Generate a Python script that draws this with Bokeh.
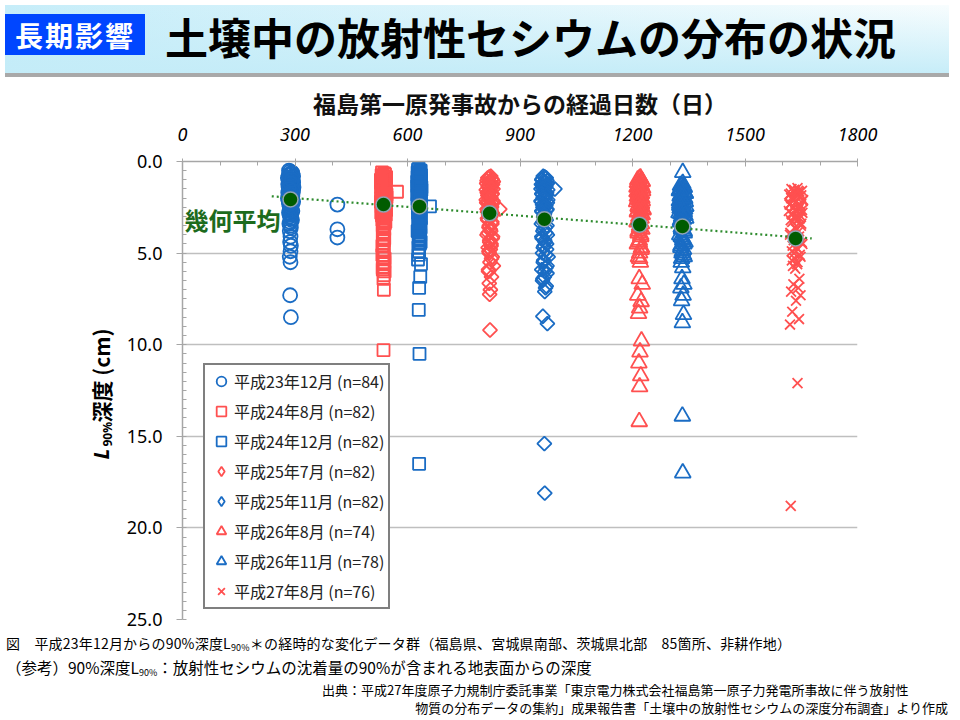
import numpy as np
from bokeh.plotting import figure
from bokeh.layouts import column, row
from bokeh.models import (Range1d, SingleIntervalTicker, FixedTicker,
                          NumeralTickFormatter, Label, Div, Legend, LegendItem)
from bokeh.core.properties import value
from bokeh.embed import file_html
from bokeh.resources import INLINE

JP = "Noto Sans CJK JP"
BLUE = "#1a6cc4"
RED = "#ff5050"

# ---------------- data ----------------
series_labels = ["平成23年12月 (n=84)", "平成24年8月 (n=82)", "平成24年12月 (n=82)",
                 "平成25年7月 (n=82)", "平成25年11月 (n=82)", "平成26年8月 (n=74)",
                 "平成26年11月 (n=78)", "平成27年8月 (n=76)"]

A_depth = [0.5, 0.6, 0.7, 0.8, 0.9, 1.0, 1.1, 1.1, 1.2, 1.3,
           1.3, 1.4, 1.5, 1.5, 1.6, 1.7, 1.7, 1.8, 1.9, 1.9,
           2.0, 2.1, 2.1, 2.2, 2.3, 2.4, 2.5, 2.6, 2.7, 2.8,
           2.9, 3.0, 3.2, 3.4, 3.6, 3.8, 4.1, 4.4, 4.6, 4.9,
           5.2, 5.5, 7.3, 8.5, 2.35, 3.7, 4.15,
           0.55, 0.65, 0.75, 0.85, 0.95, 1.05, 1.15, 1.25, 1.35, 1.45,
           1.55, 1.65, 1.75, 1.85, 1.95, 2.05, 2.15, 2.25, 2.35, 2.45,
           0.7, 0.9, 1.2, 1.4, 1.6, 1.8, 2.0, 2.2, 2.6, 2.9,
           3.1, 3.3, 3.5, 1.0, 1.5, 2.3, 2.7]
A_days = [284, 292, 288, 295, 281, 290, 286, 294, 283, 291,
          288, 296, 284, 292, 287, 282, 294, 289, 285, 293,
          281, 290, 287, 295, 284, 291, 288, 286, 293, 284,
          290, 287, 292, 285, 289, 286, 288, 287, 289, 288,
          286, 288, 287, 289, 413, 413, 413,
          287, 293, 283, 291, 289, 285, 295, 282, 290, 286,
          294, 288, 284, 292, 290, 287, 283, 293, 289, 286,
          291, 285, 289, 283, 294, 287, 292, 288, 290, 286,
          289, 287, 288, 292, 284, 289, 287]

B_depth = [0.6, 0.7, 0.8, 0.9, 1.0, 1.1, 1.2, 1.3, 1.3, 1.4,
           1.5, 1.6, 1.6, 1.7, 1.8, 1.9, 2.0, 2.0, 2.1, 2.2,
           2.3, 2.4, 2.5, 2.6, 2.7, 2.8, 2.9, 3.0, 3.2, 3.4,
           3.6, 3.9, 4.2, 4.5, 4.8, 5.1, 5.3, 5.6, 5.9, 6.2,
           7.0, 10.3, 1.65,
           0.65, 0.75, 0.85, 0.95, 1.05, 1.15, 1.25, 1.35, 1.45, 1.55,
           1.65, 1.75, 1.85, 1.95, 2.05, 2.15, 2.25, 2.35, 2.45, 2.55,
           2.65, 2.75, 2.85, 2.95, 3.1, 3.3, 3.5, 3.7, 4.0, 4.3,
           4.6, 4.9, 5.5, 5.8, 6.4, 6.0, 1.0, 1.8, 2.2]
B_days = [532, 540, 535, 543, 529, 538, 533, 541, 536, 530,
          542, 534, 539, 531, 544, 536, 530, 540, 535, 543,
          532, 538, 541, 534, 537, 530, 542, 536, 533, 539,
          536, 534, 538, 535, 537, 533, 539, 536, 534, 537,
          537, 536, 572,
          538, 531, 543, 535, 540, 529, 537, 542, 533, 539,
          530, 541, 536, 544, 532, 538, 534, 540, 531, 537,
          543, 535, 539, 532, 536, 541, 534, 538, 535, 537,
          533, 536, 538, 534, 536, 539, 531, 542, 529]

C_depth = [0.4, 0.5, 0.6, 0.7, 0.8, 0.9, 1.0, 1.1, 1.2, 1.3,
           1.4, 1.5, 1.6, 1.7, 1.8, 1.9, 2.0, 2.1, 2.2, 2.3,
           2.4, 2.5, 2.6, 2.8, 3.0, 3.2, 3.4, 3.6, 3.9, 4.2,
           4.5, 4.9, 5.35, 5.6, 6.3, 6.9, 8.1, 10.5, 16.5, 2.45,
           0.45, 0.55, 0.65, 0.75, 0.85, 0.95, 1.05, 1.15, 1.25, 1.35,
           1.45, 1.55, 1.65, 1.75, 1.85, 1.95, 2.05, 2.15, 2.25, 2.35,
           2.45, 2.55, 2.7, 2.9, 3.1, 3.3, 3.5, 3.7, 3.8, 4.0,
           4.1, 4.3, 4.4, 4.7, 0.6, 1.0, 1.4, 1.8, 2.2, 2.6,
           3.0, 5.1]
C_days = [630, 635, 627, 633, 629, 636, 631, 626, 634, 630,
          637, 628, 633, 631, 626, 635, 629, 634, 632, 627,
          636, 630, 633, 628, 634, 631, 629, 635, 632, 630,
          633, 631, 628, 636, 634, 631, 630, 632, 631, 660,
          628, 634, 631, 636, 627, 632, 635, 629, 633, 626,
          631, 637, 628, 634, 630, 636, 627, 633, 629, 635,
          631, 628, 634, 630, 636, 629, 633, 631, 627, 634,
          630, 632, 635, 629, 633, 628, 636, 630, 634, 629,
          632, 630]

D_depth = [0.8, 0.9, 1.0, 1.1, 1.2, 1.3, 1.4, 1.5, 1.6, 1.7,
           1.8, 1.9, 2.0, 2.1, 2.2, 2.3, 2.4, 2.5, 2.6, 2.7,
           2.8, 2.9, 3.0, 3.1, 3.3, 3.5, 3.7, 3.9, 4.1, 4.3,
           4.6, 4.9, 5.2, 5.5, 5.7, 6.0, 6.3, 6.65, 7.0, 7.25,
           9.2, 2.6,
           0.85, 0.95, 1.05, 1.15, 1.25, 1.35, 1.45, 1.55, 1.65, 1.75,
           1.85, 1.95, 2.05, 2.15, 2.25, 2.35, 2.45, 2.55, 2.65, 2.75,
           2.85, 2.95, 3.05, 3.2, 3.4, 3.6, 3.8, 4.0, 4.2, 4.4,
           4.5, 4.7, 4.8, 5.0, 5.3, 5.9, 1.1, 1.7, 2.3, 2.9]
D_days = [822, 814, 826, 818, 811, 824, 816, 828, 820, 813,
          825, 817, 822, 810, 827, 815, 821, 824, 812, 819,
          826, 816, 822, 813, 825, 818, 821, 815, 827, 819,
          823, 817, 826, 820, 829, 816, 824, 818, 821, 819,
          820, 846,
          818, 825, 812, 821, 827, 815, 823, 810, 819, 826,
          814, 822, 817, 828, 811, 820, 824, 816, 823, 813,
          827, 818, 821, 814, 825, 817, 822, 812, 826, 819,
          823, 815, 821, 818, 824, 816, 829, 813, 826, 822]

E_depth = [0.8, 0.9, 1.0, 1.1, 1.2, 1.3, 1.4, 1.5, 1.6, 1.7,
           1.8, 1.9, 2.0, 2.1, 2.2, 2.3, 2.4, 2.5, 2.6, 2.7,
           2.8, 3.0, 3.2, 3.4, 3.6, 3.8, 4.0, 4.2, 4.4, 4.6,
           4.8, 5.0, 5.2, 5.5, 5.8, 5.9, 6.1, 6.3, 6.5, 6.8,
           7.1, 8.45, 8.85, 15.4, 18.1, 1.5,
           0.85, 0.95, 1.05, 1.15, 1.25, 1.35, 1.45, 1.55, 1.65, 1.75,
           1.85, 1.95, 2.05, 2.15, 2.25, 2.35, 2.45, 2.55, 2.65, 2.75,
           2.9, 3.1, 3.3, 3.5, 3.7, 3.9, 4.1, 4.3, 4.5, 4.7,
           5.1, 5.4, 5.7, 6.0, 6.4, 6.9]
E_days = [962, 970, 958, 966, 973, 960, 968, 956, 964, 971,
          959, 967, 962, 974, 957, 965, 969, 961, 972, 958,
          966, 963, 970, 957, 968, 961, 973, 959, 967, 964,
          971, 960, 975, 962, 969, 958, 972, 965, 960, 970,
          966, 961, 973, 965, 966, 993,
          966, 959, 972, 963, 957, 969, 961, 974, 965, 958,
          970, 962, 967, 956, 973, 960, 968, 964, 971, 959,
          965, 968, 961, 972, 963, 969, 958, 966, 971, 962,
          969, 963, 972, 966, 961, 968]

F_depth = [0.9, 1.0, 1.1, 1.2, 1.3, 1.4, 1.5, 1.6, 1.7, 1.8,
           1.9, 2.0, 2.1, 2.2, 2.3, 2.4, 2.5, 2.6, 2.7, 2.8,
           2.9, 3.0, 3.1, 3.3, 3.5, 3.7, 3.9, 4.1, 4.3, 4.5,
           4.7, 5.0, 5.2, 5.5, 6.4, 6.7, 7.3, 7.65, 8.0, 8.3,
           9.8, 10.4, 11.0, 11.7, 12.3, 14.2,
           0.95, 1.05, 1.15, 1.25, 1.35, 1.45, 1.55, 1.65, 1.75, 1.85,
           1.95, 2.05, 2.15, 2.25, 2.35, 2.45, 2.55, 2.65, 2.75, 2.85,
           3.2, 3.4, 3.6, 3.8, 4.0, 4.4, 4.8, 5.3]
F_days = [1221, 1214, 1226, 1217, 1223, 1212, 1219, 1227, 1215, 1222,
          1213, 1225, 1218, 1211, 1224, 1216, 1221, 1228, 1214, 1220,
          1226, 1217, 1223, 1212, 1219, 1225, 1215, 1222, 1218, 1213,
          1224, 1219, 1216, 1221, 1218, 1226, 1214, 1223, 1219, 1216,
          1224, 1220, 1217, 1222, 1219, 1218,
          1218, 1225, 1213, 1222, 1216, 1227, 1220, 1212, 1224, 1217,
          1221, 1214, 1226, 1219, 1223, 1215, 1220, 1228, 1213, 1222,
          1217, 1224, 1219, 1215, 1222, 1218, 1223, 1219]

G_depth = [0.6, 1.3, 1.4, 1.5, 1.6, 1.7, 1.8, 1.9, 2.0, 2.1,
           2.2, 2.3, 2.4, 2.5, 2.6, 2.7, 2.8, 2.9, 3.0, 3.1,
           3.2, 3.4, 3.6, 3.8, 4.0, 4.2, 4.4, 4.6, 4.8, 5.0,
           5.2, 5.5, 5.8, 6.4, 6.7, 6.9, 7.3, 7.6, 8.35, 8.8,
           13.9, 17.0,
           1.35, 1.45, 1.55, 1.65, 1.75, 1.85, 1.95, 2.05, 2.15, 2.25,
           2.35, 2.45, 2.55, 2.65, 2.75, 2.85, 2.95, 3.05, 3.15, 3.3,
           3.5, 3.7, 3.9, 4.1, 4.3, 4.5, 4.7, 4.9, 5.1, 5.3,
           1.2, 1.6, 2.0, 2.4, 2.8, 3.6]
G_days = [1334, 1328, 1338, 1331, 1325, 1340, 1333, 1327, 1336, 1330,
          1341, 1326, 1335, 1329, 1339, 1332, 1324, 1337, 1331, 1342,
          1328, 1335, 1330, 1338, 1326, 1334, 1340, 1329, 1336, 1332,
          1338, 1330, 1334, 1332, 1337, 1329, 1335, 1331, 1336, 1333,
          1333, 1334,
          1330, 1337, 1326, 1335, 1341, 1328, 1333, 1339, 1325, 1336,
          1331, 1342, 1327, 1334, 1338, 1329, 1340, 1332, 1336, 1328,
          1335, 1331, 1338, 1330, 1334, 1337, 1329, 1333, 1336, 1331,
          1334, 1328, 1339, 1326, 1337, 1332]

H_depth = [1.45, 1.5, 1.6, 1.7, 1.8, 1.9, 2.0, 2.1, 2.2, 2.3,
           2.4, 2.5, 2.6, 2.7, 2.8, 2.9, 3.0, 3.1, 3.2, 3.4,
           3.6, 3.8, 4.0, 4.2, 4.4, 4.6, 4.8, 5.0, 5.2, 5.4,
           5.6, 5.85, 6.4, 6.7, 6.9, 7.1, 7.3, 7.6, 8.2, 8.6,
           8.9, 12.1, 18.8,
           1.55, 1.65, 1.75, 1.85, 1.95, 2.05, 2.15, 2.25, 2.35, 2.45,
           2.55, 2.65, 2.75, 2.85, 2.95, 3.05, 3.15, 3.3, 3.5, 3.7,
           3.9, 4.1, 4.3, 4.5, 4.7, 4.9, 5.1, 5.3, 5.5, 5.7,
           1.6, 2.0, 2.4]
H_days = [1640, 1624, 1652, 1632, 1618, 1647, 1628, 1655, 1636, 1621,
          1649, 1630, 1643, 1617, 1653, 1626, 1638, 1646, 1622, 1650,
          1633, 1644, 1620, 1637, 1651, 1627, 1641, 1631, 1648, 1625,
          1639, 1634, 1645, 1629, 1642, 1623, 1648, 1636, 1626, 1644,
          1620, 1640, 1622,
          1631, 1645, 1622, 1650, 1637, 1627, 1654, 1634, 1619, 1643,
          1629, 1652, 1639, 1624, 1647, 1632, 1641, 1626, 1649, 1636,
          1621, 1644, 1630, 1653, 1638, 1625, 1646, 1633, 1640, 1628,
          1642, 1623, 1648]

mean_days = [288, 536, 632, 819, 965, 1219, 1333, 1635]
mean_depth = [2.07, 2.35, 2.45, 2.83, 3.15, 3.45, 3.55, 4.2]
trend_days = [238, 1678]
trend_depth = [1.9, 4.2]

x_ticks_interval = 300
y_ticks_interval = 5

title_tag = "長期影響"
title_text = "土壌中の放射性セシウムの分布の状況"
x_title = "福島第一原発事故からの経過日数（日）"
mean_label = "幾何平均"
src1 = "出典：平成27年度原子力規制庁委託事業「東京電力株式会社福島第一原子力発電所事故に伴う放射性"
src2 = "物質の分布データの集約」成果報告書「土壌中の放射性セシウムの深度分布調査」より作成"

W = 944
FONT_CSS = "font-family:'Noto Sans CJK JP',sans-serif;"

# ---------------- header (Div) ----------------
header_html = (
    '<div style="position:relative;width:944px;height:72px;box-sizing:border-box;'
    'border-bottom:4px solid #a9a9a9;'
    'background:linear-gradient(to bottom, rgba(196,236,248,0) 0%, rgba(196,236,248,0.95) 100%),'
    'linear-gradient(to right, #c6edf9 0%, #f8fdfe 100%);">'
    '<div style="position:absolute;left:0px;top:9px;width:140px;height:41px;background:#0046ff;"></div>'
    '<div style="position:absolute;left:0px;top:10px;width:140px;line-height:40px;'
    'color:white;font-weight:bold;font-size:28px;letter-spacing:2px;text-align:center;' + FONT_CSS + '">'
    + title_tag + '</div>'
    '<div style="position:absolute;left:160px;top:1px;white-space:nowrap;color:black;'
    'font-weight:bold;font-size:43px;line-height:60px;' + FONT_CSS + '">' + title_text + '</div>'
    '</div>'
)
hdr = Div(text=header_html, width=W, height=72)

# ---------------- y-axis title panel ----------------
YTW = 116
FRAME_H = 458
TOPB = 78
BOTB = 14
yt = figure(frame_width=YTW, frame_height=FRAME_H, x_range=Range1d(0, YTW),
            y_range=Range1d(0, FRAME_H),
            x_axis_type=None, y_axis_type=None, output_backend="svg", toolbar_location=None,
            min_border_left=0, min_border_right=0, min_border_top=TOPB, min_border_bottom=BOTB)
yt.outline_line_color = None
yt.grid.visible = False
yt.text(x=[100], y=[160], text=["L"], angle=np.pi / 2, text_font=value("Noto Sans"),
        text_font_style="bold italic", text_font_size="21px", text_align="left",
        text_baseline="middle", text_color="black")
yt.text(x=[107], y=[173], text=["90%"], angle=np.pi / 2, text_font=value("Noto Sans"),
        text_font_style="bold", text_font_size="12px", text_align="left",
        text_baseline="middle", text_color="black")
yt.text(x=[100], y=[197], text=["深度 (cm)"], angle=np.pi / 2, text_font=value(JP),
        text_font_style="bold", text_font_size="21px", text_align="left",
        text_baseline="middle", text_color="black")

# ---------------- main chart ----------------
p = figure(frame_width=675, frame_height=FRAME_H, x_range=Range1d(0, 1800),
           y_range=Range1d(25, 0),
           x_axis_location="above", output_backend="svg", toolbar_location=None,
           min_border_left=66, min_border_right=87, min_border_top=TOPB, min_border_bottom=BOTB)
p.outline_line_color = None
p.xgrid.visible = False
p.ygrid.ticker = FixedTicker(ticks=[5, 10, 15, 20, 25])
p.ygrid.grid_line_color = "#bfbfbf"
p.ygrid.grid_line_width = 1.6

xa = p.xaxis[0]
xa.ticker = SingleIntervalTicker(interval=x_ticks_interval, num_minor_ticks=3)
xa.axis_line_color = "#a6a6a6"
xa.axis_line_width = 1.5
xa.major_tick_line_color = "#a6a6a6"
xa.minor_tick_line_color = "#a6a6a6"
xa.major_tick_in = 5
xa.major_tick_out = 3
xa.minor_tick_in = 4
xa.minor_tick_out = 0
xa.major_label_text_font = "Noto Sans"
xa.major_label_text_font_style = "italic"
xa.major_label_text_font_size = "18px"
xa.major_label_text_color = "black"
xa.major_label_standoff = 18
xa.axis_label = x_title
xa.axis_label_text_font = JP
xa.axis_label_text_font_style = "bold"
xa.axis_label_text_font_size = "23px"
xa.axis_label_text_color = "#111111"
xa.axis_label_standoff = 5

ya = p.yaxis[0]
ya.ticker = SingleIntervalTicker(interval=y_ticks_interval, num_minor_ticks=10)
ya.formatter = NumeralTickFormatter(format="0.0")
ya.axis_line_color = "#a6a6a6"
ya.axis_line_width = 1.5
ya.major_tick_line_color = "#a6a6a6"
ya.minor_tick_line_color = "#a6a6a6"
ya.major_tick_in = 0
ya.major_tick_out = 6
ya.minor_tick_in = 4
ya.minor_tick_out = 0
ya.major_label_text_font = "Noto Sans"
ya.major_label_text_font_size = "18px"
ya.major_label_text_color = "black"
ya.major_label_standoff = 14

specs = [
    (A_days, A_depth, "circle", BLUE, 14, 0.0),
    (B_days, B_depth, "square", RED, 12, 0.0),
    (C_days, C_depth, "square", BLUE, 12, 0.0),
    (D_days, D_depth, "square", RED, 10, np.pi / 4),
    (E_days, E_depth, "square", BLUE, 10, np.pi / 4),
    (F_days, F_depth, "triangle", RED, 16, 0.0),
    (G_days, G_depth, "triangle", BLUE, 16, 0.0),
    (H_days, H_depth, "x", RED, 14, 0.0),
]
items = []
for (dx, dy, mk, col, sz, ang), lab in zip(specs, series_labels):
    r = p.scatter(dx, dy, marker=mk, size=sz, angle=ang, fill_color=None, line_color=col,
                  line_width=1.8)
    if ang != 0.0:
        # hidden twin of the same series, used only for an upright diamond swatch
        r = p.scatter(dx, dy, marker="diamond", size=sz, fill_color=None, line_color=col,
                      line_width=1.8, visible=False)
    items.append(LegendItem(label=lab, renderers=[r]))

p.line(trend_days, trend_depth, line_color="#2e8b2e", line_width=2.2, line_dash="2 3")
p.scatter(mean_days, mean_depth, marker="circle", size=15, fill_color="#005c00",
          line_color="#8fa3b5", line_width=1.5)

lg = Legend(items=items, location=(21, 10), margin=0, padding=4, spacing=6,
            glyph_width=24, glyph_height=24, label_height=24, label_standoff=1,
            label_text_font=JP, label_text_font_size="16px", label_text_color="#222222",
            border_line_color="black", border_line_width=2,
            background_fill_color="white", background_fill_alpha=1.0,
            click_policy="none")
p.add_layout(lg)

p.add_layout(Label(x=2, y=400, x_units="screen", y_units="screen", text=mean_label,
                   text_font=JP, text_font_style="bold", text_font_size="24px",
                   text_align="left", text_baseline="middle", text_color="#1d6b1d"))

# ---------------- footer (Div) ----------------
sub = '<span style="font-size:9px;vertical-align:-2px;">90%</span>'
footer_html = (
    '<div style="position:relative;width:944px;height:76px;color:black;' + FONT_CSS + '">'
    '<div style="position:absolute;left:1px;top:-5px;line-height:20px;font-size:14px;white-space:nowrap;letter-spacing:0.2px;">'
    '図　平成23年12月からの90%深度L' + sub + '＊の経時的な変化データ群（福島県、宮城県南部、茨城県北部　85箇所、非耕作地）</div>'
    '<div style="position:absolute;left:1px;top:18px;line-height:22px;font-size:15.5px;white-space:nowrap;">'
    '（参考）90%深度L' + sub + '：放射性セシウムの沈着量の90%が含まれる地表面からの深度</div>'
    '<div style="position:absolute;left:317px;top:42px;line-height:20px;font-size:13px;white-space:nowrap;">'
    + src1 + '</div>'
    '<div style="position:absolute;right:1px;top:60px;line-height:20px;font-size:13px;white-space:nowrap;">'
    + src2 + '</div>'
    '</div>'
)
ftr = Div(text=footer_html, width=W, height=76)

layout = column(hdr, row(yt, p, spacing=0), ftr, spacing=0)
open("out.html", "w").write(file_html(layout, INLINE))
